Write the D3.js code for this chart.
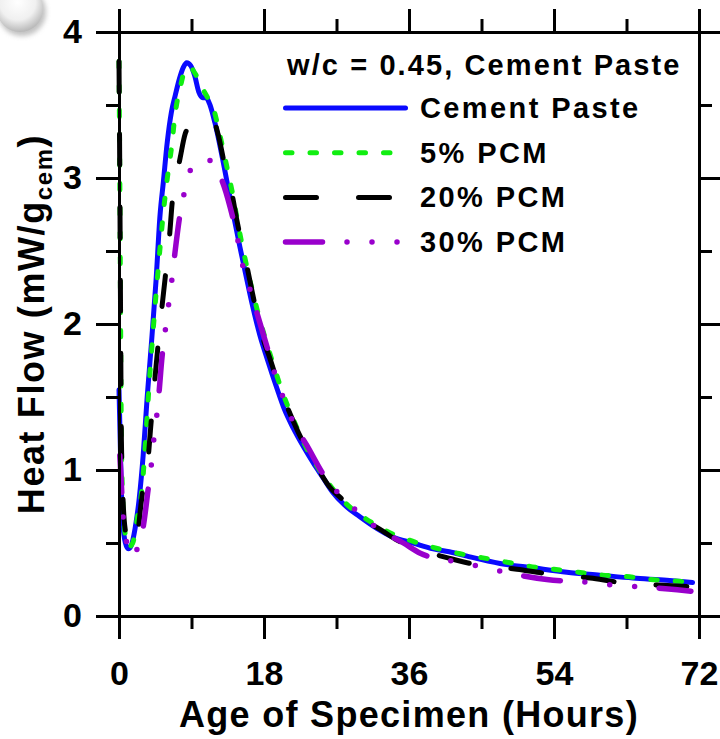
<!DOCTYPE html>
<html>
<head>
<meta charset="utf-8">
<script src="https://cdn.jsdelivr.net/npm/d3@7"></script>
<style>
  body { margin: 0; background: #fff; }
  svg { display: block; font-family: Arial, "Liberation Sans", sans-serif; font-weight: bold; }
</style>
</head>
<body>
<div id="okvir"></div>
<script>
// podatci ocitani sa slike: [sati, mW/g]
const cementPaste = [[0,1.55],[0.15,1.2],[0.3,0.85],[0.5,0.62],[0.8,0.5],[1.15,0.46],[1.5,0.48],[2.0,0.6],[2.5,0.8],[3.0,1.1],[3.5,1.5],[4.0,1.85],[4.6,2.3],[5.1,2.75],[5.5,2.97],[6.0,3.25],[6.5,3.45],[7.0,3.57],[7.5,3.68],[8.0,3.76],[8.4,3.79],[8.9,3.77],[9.4,3.7],[9.9,3.59],[10.4,3.55],[10.8,3.55],[11.3,3.5],[11.9,3.38],[12.9,3.12],[13.8,2.86],[15.0,2.53],[16.0,2.27],[16.6,2.12],[17.5,1.92],[18.4,1.76],[19.6,1.56],[20.5,1.42],[21.6,1.29],[23.0,1.15],[24.1,1.05],[25.3,0.95],[26.5,0.85],[28.0,0.76],[29.9,0.68],[32.0,0.6],[34.0,0.54],[36.5,0.5],[39.0,0.46],[41.0,0.44],[43.2,0.41],[47.3,0.36],[51.4,0.33],[55.6,0.3],[59.7,0.28],[63.8,0.26],[68.0,0.245],[71.2,0.23]];
const pcm5 = [[0,3.8],[0.1,3.0],[0.2,2.0],[0.3,1.2],[0.5,0.75],[0.8,0.55],[1.2,0.47],[1.7,0.5],[2.3,0.68],[2.9,0.9],[3.3,1.2],[3.7,1.55],[4.3,2.0],[4.9,2.4],[5.5,2.76],[6.0,3.0],[6.5,3.2],[7.0,3.45],[7.6,3.62],[8.3,3.75],[8.8,3.76],[9.4,3.72],[10.3,3.62],[11.0,3.55],[11.7,3.48],[12.5,3.3],[13.3,3.1],[14.0,2.92],[15.0,2.62],[16.0,2.36],[17.0,2.13],[18.0,1.93],[19.0,1.75],[20.0,1.58],[21.0,1.43],[22.0,1.3],[23.0,1.18],[24.0,1.08],[25.0,0.99],[26.0,0.91],[27.0,0.84],[28.0,0.78],[30.0,0.69],[32.0,0.62],[34.0,0.56],[36.0,0.52],[39.0,0.47],[42.0,0.43],[45.0,0.4],[48.0,0.37],[51.0,0.34],[54.0,0.32],[57.0,0.3],[60.0,0.28],[63.0,0.27],[66.0,0.25],[69.0,0.24],[71.2,0.23]];
const pcm20 = [[0,3.8],[0.1,3.0],[0.2,2.0],[0.3,1.2],[0.5,0.8],[0.8,0.58],[1.3,0.48],[1.9,0.5],[2.4,0.6],[2.7,0.75],[3.1,0.92],[3.6,1.07],[3.9,1.27],[4.5,1.65],[5.3,2.1],[5.7,2.3],[6.3,2.62],[6.6,2.83],[7.1,3.0],[7.6,3.14],[8.2,3.3],[9.0,3.37],[10.0,3.4],[11.0,3.42],[11.7,3.4],[12.3,3.3],[13.0,3.12],[14.0,2.9],[14.6,2.72],[15.9,2.39],[17.0,2.1],[18.0,1.88],[18.7,1.77],[20.0,1.55],[21.2,1.39],[22.5,1.23],[24.0,1.08],[26.2,0.88],[27.7,0.8],[30.0,0.68],[32.8,0.58],[34.5,0.52],[37.0,0.46],[40.7,0.4],[43.6,0.36],[46.5,0.34],[49.4,0.32],[53.1,0.29],[58.5,0.26],[62.2,0.23],[67.5,0.21],[71.0,0.2]];
const pcm30 = [[0.1,1.1],[0.3,0.9],[0.45,0.72],[0.75,0.59],[1.1,0.45],[1.5,0.41],[2.0,0.43],[2.6,0.52],[3.0,0.61],[3.6,0.86],[4.0,1.03],[4.3,1.2],[4.7,1.38],[5.0,1.55],[5.3,1.75],[5.8,1.98],[6.2,2.15],[6.6,2.32],[6.95,2.49],[7.6,2.76],[8.2,2.92],[9.0,3.07],[10.0,3.12],[11.3,3.12],[12.0,3.06],[12.8,2.98],[13.8,2.8],[14.8,2.56],[15.4,2.39],[16.3,2.23],[17.1,2.08],[18.5,1.82],[19.4,1.65],[20.5,1.48],[21.6,1.33],[23.3,1.17],[25.6,0.95],[27.4,0.83],[29.7,0.71],[32.1,0.6],[35.3,0.5],[37.4,0.43],[42.0,0.37],[44.8,0.34],[47.9,0.3],[53.1,0.25],[58.5,0.23],[61.6,0.21],[64.7,0.2],[69.3,0.18],[71.0,0.17]];

const serije = [
  {ime: "Cement Paste", podatci: cementPaste, boja: "#0a0aff", crtice: null, debljina: 5, kraj: 405.5},
  {ime: "5% PCM", podatci: pcm5, boja: "#11ee11", crtice: "6.5,18", debljina: 5, kraj: 390},
  {ime: "20% PCM", podatci: pcm20, boja: "#000000", crtice: "31,42", debljina: 5, kraj: 390},
  {ime: "30% PCM", podatci: pcm30, boja: "#9900cc", crtice: "37,24.5,0,25,0,25,0,24.5", debljina: 5.5, kraj: 398},
];
const legendaNaslov = "w/c = 0.45, Cement Paste";
const xGlavne = [0, 18, 36, 54, 72];
const xSporedne = [9, 27, 45, 63];
const yGlavne = [0, 1, 2, 3, 4];
const ySporedne = [0.5, 1.5, 2.5, 3.5];

// dimenzije
const dimenzije = {
  sirina: 720,
  visina: 739,
  margine: {top: 32, right: 21, bottom: 123, left: 119},
}
dimenzije.grSirina = dimenzije.sirina - dimenzije.margine.left - dimenzije.margine.right
dimenzije.grVisina = dimenzije.visina - dimenzije.margine.top - dimenzije.margine.bottom

const okvir = d3.select("#okvir")
  .append("svg")
  .attr("width", dimenzije.sirina)
  .attr("height", dimenzije.visina)

// ukrasna kuglica gore lijevo
const defs = okvir.append("defs")
const grad = defs.append("radialGradient").attr("id", "kugla").attr("cx", "45%").attr("cy", "35%").attr("r", "65%")
grad.append("stop").attr("offset", "0%").attr("stop-color", "#ffffff")
grad.append("stop").attr("offset", "60%").attr("stop-color", "#f0f0f0")
grad.append("stop").attr("offset", "100%").attr("stop-color", "#b8b8b8")
defs.append("filter").attr("id", "sjena").append("feGaussianBlur").attr("stdDeviation", 2.5)
okvir.append("circle").attr("cx", 22).attr("cy", 12).attr("r", 24)
  .attr("fill", "#999").attr("opacity", 0.6).attr("filter", "url(#sjena)")
okvir.append("circle").attr("cx", 20).attr("cy", 9).attr("r", 23).attr("fill", "url(#kugla)")

const granice = okvir.append("g")
  .attr("transform", `translate(${dimenzije.margine.left},${dimenzije.margine.top})`)

const xSkala = d3.scaleLinear().domain([0, 72]).range([0, dimenzije.grSirina])
const ySkala = d3.scaleLinear().domain([0, 4]).range([dimenzije.grVisina, 0])

// linije
const linija = d3.line()
  .x(d => xSkala(d[0]))
  .y(d => ySkala(d[1]))
  .curve(d3.curveMonotoneX)

granice.selectAll(".serija")
  .data(serije)
  .join("path")
  .attr("class", "serija")
  .attr("d", d => linija(d.podatci))
  .attr("fill", "none")
  .attr("stroke", d => d.boja)
  .attr("stroke-width", d => d.debljina)
  .attr("stroke-dasharray", d => d.crtice)
  .attr("stroke-linecap", "round")
  .attr("stroke-linejoin", "round")

// osi
function stil(os, velicina) {
  os.selectAll("path.domain").attr("stroke-width", 3).attr("stroke-linecap", "square")
  os.selectAll(".tick line").attr("stroke-width", 3)
  os.selectAll("text").attr("font-size", velicina).attr("fill", "#000")
}
const osi = [
  {gen: d3.axisBottom, pomak: `translate(0,${dimenzije.grVisina})`, skala: xSkala, glavne: xGlavne, sporedne: xSporedne, oznake: true},
  {gen: d3.axisTop, pomak: `translate(0,0)`, skala: xSkala, glavne: xGlavne, sporedne: xSporedne, oznake: false},
  {gen: d3.axisLeft, pomak: `translate(0,0)`, skala: ySkala, glavne: yGlavne, sporedne: ySporedne, oznake: true},
  {gen: d3.axisRight, pomak: `translate(${dimenzije.grSirina},0)`, skala: ySkala, glavne: yGlavne, sporedne: ySporedne, oznake: false},
]
osi.forEach(o => {
  const g1 = granice.append("g").attr("transform", o.pomak)
    .call(o.gen(o.skala).tickValues(o.sporedne).tickSize(13).tickSizeOuter(0).tickFormat(""))
  stil(g1, 34)
  const g2 = granice.append("g").attr("transform", o.pomak)
    .call(o.gen(o.skala).tickValues(o.glavne).tickSize(23).tickSizeOuter(0)
      .tickPadding(o.gen === d3.axisBottom ? 22 : 14)
      .tickFormat(o.oznake ? d3.format("d") : ""))
  stil(g2, 34)
  g2.selectAll("text").attr("font-weight", "bold").attr("font-family", "Arial, 'Liberation Sans', sans-serif")
})

// naslovi osi
granice.append("text")
  .attr("x", dimenzije.grSirina / 2)
  .attr("y", dimenzije.grVisina + 111)
  .attr("text-anchor", "middle")
  .attr("font-size", 36)
  .attr("letter-spacing", 1.3)
  .text("Age of Specimen (Hours)")

const yNaslov = okvir.append("text")
  .attr("transform", `translate(44,${dimenzije.margine.top + dimenzije.grVisina / 2}) rotate(-90)`)
  .attr("text-anchor", "middle")
  .attr("font-size", 36)
  .attr("letter-spacing", 1.6)
yNaslov.append("tspan").text("Heat Flow (mW/g")
yNaslov.append("tspan").attr("font-size", 24).attr("dy", 8).text("cem")
yNaslov.append("tspan").attr("dy", -8).text(")")

// legenda
const legenda = okvir.append("g")
legenda.append("text")
  .attr("x", 287).attr("y", 75)
  .attr("font-size", 29).attr("letter-spacing", 2.1)
  .text(legendaNaslov)

const stavke = legenda.selectAll(".stavka")
  .data(serije)
  .join("g")
  .attr("class", "stavka")
  .attr("transform", (d, i) => `translate(0,${108 + i * 44.7})`)
stavke.append("line")
  .attr("x1", 285.5).attr("x2", d => d.kraj)
  .attr("stroke", d => d.boja)
  .attr("stroke-width", d => d.debljina)
  .attr("stroke-dasharray", d => d.crtice)
  .attr("stroke-linecap", "round")
stavke.append("text")
  .attr("x", 420).attr("y", 10)
  .attr("font-size", 29).attr("letter-spacing", 2.4)
  .text(d => d.ime)
</script>
</body>
</html>
